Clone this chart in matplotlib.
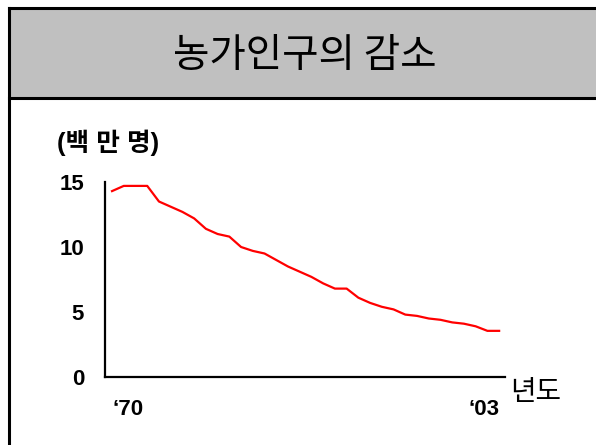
import matplotlib
matplotlib.use('Agg')
import matplotlib.pyplot as plt
from matplotlib.patches import Rectangle
from matplotlib.lines import Line2D

# Farm population (millions), 1970-2003
years = list(range(1970, 2004))
population = [14.3, 14.7, 14.7, 14.7, 13.5, 13.1, 12.7, 12.2, 11.4, 11.0,
              10.8, 10.0, 9.7, 9.5, 9.0, 8.5, 8.1, 7.7, 7.2, 6.8,
              6.8, 6.1, 5.7, 5.4, 5.2, 4.8, 4.7, 4.5, 4.4, 4.2,
              4.1, 3.9, 3.55, 3.55]
y_ticks = [0, 5, 10, 15]
x_tick_years = [1970, 2003]
x_tick_labels = ['\u201870', '\u201803']

title = '농가인구의 감소'
unit_label = '(백 만 명)'
x_label = '년도'

fonts = ['Liberation Sans', 'Noto Sans CJK KR']
plt.rcParams['font.family'] = fonts

W, H = 596, 445
fig = plt.figure(figsize=(W / 100, H / 100), dpi=100)

# Frame: gray title band and black borders
fig.patches.append(Rectangle((9 / W, 1 - 98 / H), 1, 90 / H, transform=fig.transFigure,
                             facecolor='#c0c0c0', edgecolor='none', zorder=0))
fig.lines.append(Line2D([9 / W, 1], [1 - 8 / H, 1 - 8 / H], transform=fig.transFigure,
                        color='black', lw=2.2))
fig.lines.append(Line2D([9 / W, 1], [1 - 98 / H, 1 - 98 / H], transform=fig.transFigure,
                        color='black', lw=2.2))
fig.lines.append(Line2D([9 / W, 9 / W], [0, 1 - 8 / H], transform=fig.transFigure,
                        color='black', lw=2.2))

fig.text(305 / W, 1 - 56 / H, title, ha='center', va='center', fontsize=28.5,
         family=['Noto Sans CJK KR'])

ax = fig.add_axes([105 / W, 68 / H, 400 / W, 195 / H])
ax.plot(years, population, color='#ff0000', lw=1.6, clip_on=False)
ax.set_xlim(1969.4, 2003.5)
ax.set_ylim(0, 15)

for s in ['top', 'right']:
    ax.spines[s].set_visible(False)
for s in ['left', 'bottom']:
    ax.spines[s].set_linewidth(1.6)

ax.set_yticks(y_ticks)
ax.set_yticklabels([str(v) for v in y_ticks], fontsize=16, fontweight='bold')
ax.set_xticks(x_tick_years)
ax.set_xticklabels(x_tick_labels, fontsize=16, fontweight='bold')
ax.tick_params(axis='y', length=0, pad=15)
ax.tick_params(axis='x', length=0, pad=16)
xl = ax.get_xticklabels()
xl[0].set_ha('left')
xl[1].set_ha('right')

ax.text(-0.12, 1.2, unit_label, transform=ax.transAxes, ha='left', va='center',
        fontsize=18.5, fontweight='bold')
ax.text(1.012, -0.08, x_label, transform=ax.transAxes, ha='left', va='center',
        fontsize=20)

fig.savefig('out.png', dpi=100)
